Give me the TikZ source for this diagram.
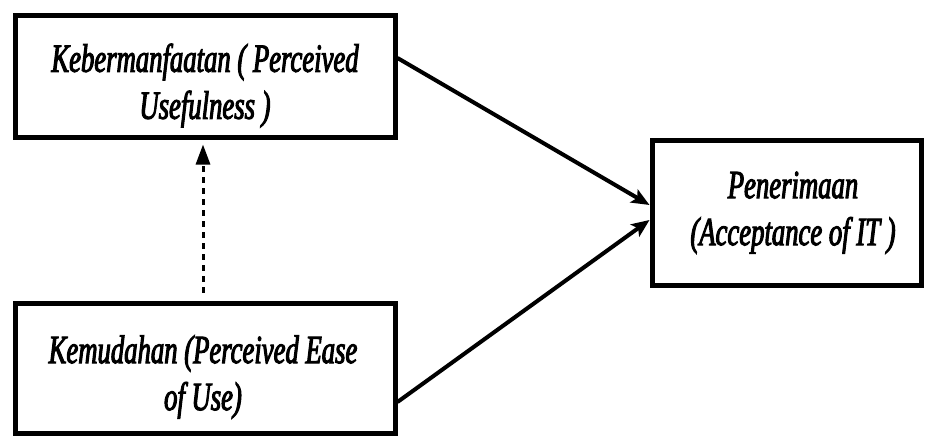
\documentclass[tikz,border=0pt]{standalone}
\usepackage{fontspec}
\usetikzlibrary{arrows.meta}
\newfontfamily\condit{Liberation Serif}[UprightFont={* Italic},FakeStretch=0.667,FakeBold=2.5]
\begin{document}
\begin{tikzpicture}[x=1pt,y=-1pt,
  box/.style={draw,line width=5pt,inner sep=0pt},
  lbl/.style={align=center,inner sep=0pt,font=\condit\fontsize{40}{47}\selectfont},
  conn/.style={line width=4pt,-{Stealth[length=18pt,width=15pt,inset=4pt]}},
  dashconn/.style={line width=3pt,dash pattern=on 6pt off 5pt,-{Triangle[length=20pt,width=14pt]}}]
\useasboundingbox (0,0) rectangle (927,439);
\fill[white] (0,0) rectangle (927,439);
\node[box,minimum width=380pt,minimum height=122pt] (pu) at (205,76) {};
\node[box,minimum width=380pt,minimum height=130pt] (ease) at (205,368) {};
\node[box,minimum width=269pt,minimum height=145pt] (acc) at (786.5,212.5) {};
\node[lbl] (put) at (205,85.5) {Kebermanfaatan ( Perceived\\Usefulness )};
\node[lbl] (easet) at (203,377) {Kemudahan (Perceived Ease\\of Use)};
\node[lbl] (acct) at (793,212.7) {Penerimaan\\(Acceptance of IT )};
\draw[conn] ([yshift=18pt]pu.east) -- ([yshift=7.5pt]acc.west);
\draw[conn] ([yshift=-34pt]ease.east) -- ([yshift=-7.5pt]acc.west);
\draw[dashconn,shorten <=8pt,shorten >=5pt] ([xshift=-2pt]ease.north) -- ([xshift=-2pt]pu.south);
\end{tikzpicture}
\end{document}
